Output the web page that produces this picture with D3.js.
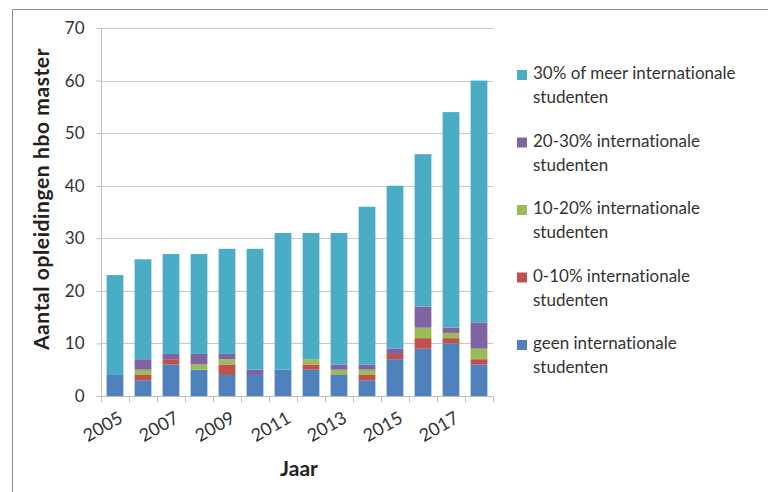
<!DOCTYPE html>
<html>
<head>
<meta charset="utf-8">
<script src="https://cdn.jsdelivr.net/npm/d3@7/dist/d3.min.js"></script>
<style>
  html, body { margin: 0; padding: 0; background: #fff; }
  svg { display: block; font-family: Lato, "Open Sans", sans-serif; font-variant-ligatures: none; font-feature-settings: "liga" 0, "clig" 0; }
</style>
</head>
<body>
<svg id="chart" width="768" height="492"></svg>
<script>
const years = ["2005","2006","2007","2008","2009","2010","2011","2012","2013","2014","2015","2016","2017","2018"];
const geen    = [4, 3, 6, 5, 4, 4, 5, 5, 4, 3, 7, 9, 10, 6];
const p0_10   = [0, 1, 1, 0, 2, 0, 0, 1, 0, 1, 1, 2, 1, 1];
const p10_20  = [0, 1, 0, 1, 1, 0, 0, 1, 1, 1, 0, 2, 1, 2];
const p20_30  = [0, 2, 1, 2, 1, 1, 0, 0, 1, 1, 1, 4, 1, 5];
const p30plus = [19, 19, 19, 19, 20, 23, 26, 24, 25, 30, 31, 29, 41, 46];
const yTicks = [0, 10, 20, 30, 40, 50, 60, 70];
const xLabelYears = ["2005","2007","2009","2011","2013","2015","2017"];

const seriesKeys = ["geen", "p0_10", "p10_20", "p20_30", "p30plus"];
const seriesColors = ["#4F81BD", "#C0504D", "#9BBB59", "#8064A2", "#4BACC6"];
const legendLines = [
  ["30% of meer internationale", "studenten"],
  ["20-30% internationale", "studenten"],
  ["10-20% internationale", "studenten"],
  ["0-10% internationale", "studenten"],
  ["geen internationale", "studenten"]
];

(function () {
const table = years.map((y, i) => ({year: y, geen: geen[i], p0_10: p0_10[i], p10_20: p10_20[i], p20_30: p20_30[i], p30plus: p30plus[i]}));
const stacked = d3.stack().keys(seriesKeys)(table);

const svg = d3.select("#chart");
const pLeft = 101, pRight = 493, pTop = 28, pBottom = 396;

// frame
svg.append("path").attr("d", `M12.5,492 L12.5,9.5 L768,9.5`).attr("fill", "none").attr("stroke", "#8c8c8c").attr("stroke-width", 1);

const x = d3.scaleBand().domain(years).range([pLeft, pRight]).paddingInner(0.4).paddingOuter(0.2);
const y = d3.scaleLinear().domain([0, 70]).range([pBottom, pTop]);

// gridlines
svg.append("g").selectAll("line").data(yTicks.filter(t => t > 0)).join("line")
  .attr("x1", pLeft).attr("x2", pRight)
  .attr("y1", d => Math.round(y(d)) + 0.5).attr("y2", d => Math.round(y(d)) + 0.5)
  .attr("stroke", "#c8c8c8").attr("stroke-width", 1);

// y axis
const yAxis = svg.append("g").attr("transform", `translate(${pLeft + 0.5},0)`)
  .call(d3.axisLeft(y).tickValues(yTicks).tickSize(5).tickPadding(12));
yAxis.select(".domain").attr("stroke", "#bdbdbd").attr("d", `M0,${pTop}V${pBottom}`);
yAxis.selectAll(".tick line").attr("stroke", "#bdbdbd");
yAxis.selectAll(".tick text").attr("font-size", 17).attr("fill", "#333").attr("font-family", "Lato, sans-serif");

// bars
svg.append("g").selectAll("g").data(stacked).join("g")
  .attr("fill", (d, i) => seriesColors[i])
  .selectAll("rect").data(d => d).join("rect")
  .attr("x", d => x(d.data.year))
  .attr("width", x.bandwidth())
  .attr("y", d => y(d[1]))
  .attr("height", d => y(d[0]) - y(d[1]));

// x axis
const xb = svg.append("g").attr("transform", `translate(0,${pBottom + 0.5})`);
xb.append("line").attr("x1", pLeft).attr("x2", pRight).attr("stroke", "#bdbdbd");
const step = (pRight - pLeft) / years.length;
xb.selectAll("line.t").data(d3.range(years.length + 1)).join("line").attr("class", "t")
  .attr("x1", i => Math.round(pLeft + i * step) + 0.5).attr("x2", i => Math.round(pLeft + i * step) + 0.5)
  .attr("y1", 0).attr("y2", 6).attr("stroke", "#bdbdbd");
xb.selectAll("text").data(xLabelYears).join("text")
  .attr("transform", d => `translate(${x(d) + x.bandwidth() / 2 + 9},${25}) rotate(-30)`)
  .attr("text-anchor", "end")
  .attr("font-size", 18).attr("fill", "#333")
  .text(d => d);

// axis titles
svg.append("text").attr("x", 299).attr("y", 476).attr("text-anchor", "middle")
  .attr("font-size", 21).attr("font-weight", "bold").attr("fill", "#222").text("Jaar");
svg.append("text").attr("transform", "translate(49,199) rotate(-90)").attr("text-anchor", "middle")
  .attr("font-size", 21).attr("font-weight", "bold").attr("letter-spacing", 0.6).attr("fill", "#222").text("Aantal opleidingen hbo master");

// legend
const legendOrder = [4, 3, 2, 1, 0];
const lg = svg.append("g").selectAll("g").data(legendOrder).join("g")
  .attr("transform", (d, i) => `translate(517,${79 + i * 67.5})`);
lg.append("rect").attr("x", 0).attr("y", -9).attr("width", 10).attr("height", 10).attr("fill", d => seriesColors[d]);
lg.each(function(d, i) {
  const t = d3.select(this).append("text").attr("x", 16).attr("font-size", 17).attr("fill", "#333");
  legendLines[i].forEach((line, j) => t.append("tspan").attr("x", 16).attr("dy", j === 0 ? 0 : 24).text(line));
});
})();
</script>
</body>
</html>
